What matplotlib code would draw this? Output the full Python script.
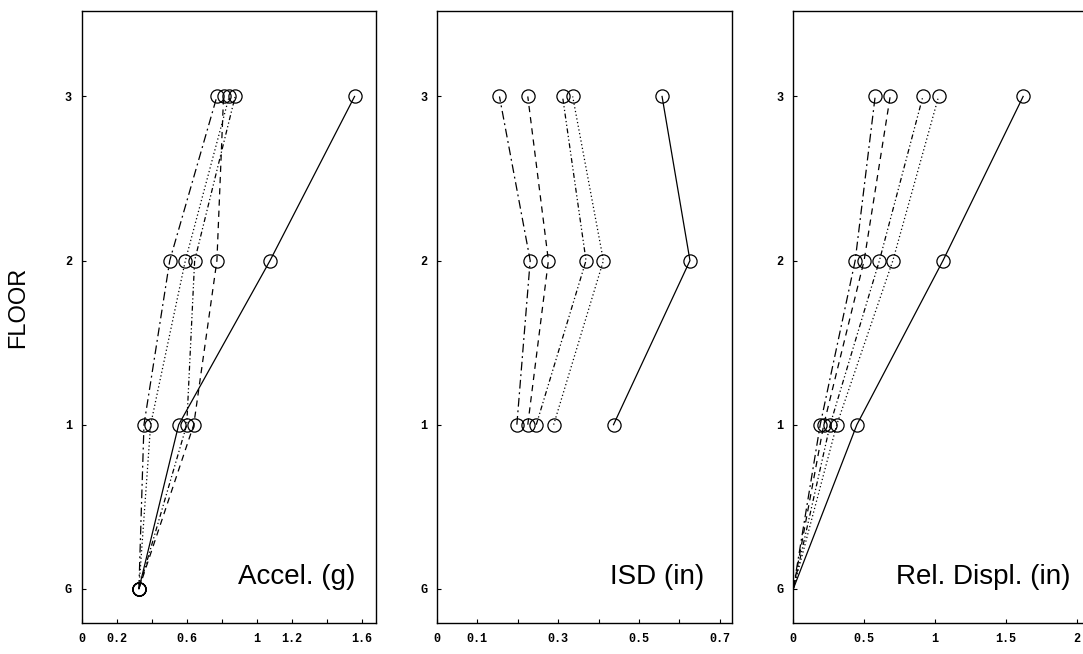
import matplotlib
matplotlib.use("Agg")
import matplotlib.pyplot as plt

# floor positions (G, 1, 2, 3)
floors = [0, 1, 2, 3]
floor_labels = ["G", "1", "2", "3"]

# peak acceleration (g), one list per run
accel_a = [0.327, 0.356, 0.503, 0.772]
accel_b = [0.327, 0.640, 0.772, 0.810]
accel_c = [0.327, 0.600, 0.645, 0.876]
accel_d = [0.327, 0.394, 0.592, 0.842]
accel_e = [0.327, 0.554, 1.075, 1.557]

# inter-story drift (in), floors 1-3 only
isd_floors = [1, 2, 3]
isd_a = [0.198, 0.231, 0.155]
isd_b = [0.225, 0.276, 0.225]
isd_c = [0.246, 0.369, 0.311]
isd_d = [0.289, 0.412, 0.336]
isd_e = [0.437, 0.626, 0.557]

# relative displacement (in)
disp_a = [0.0, 0.190, 0.437, 0.578]
disp_b = [0.0, 0.215, 0.500, 0.684]
disp_c = [0.0, 0.260, 0.608, 0.915]
disp_d = [0.0, 0.307, 0.703, 1.026]
disp_e = [0.0, 0.449, 1.057, 1.623]

accel_ticks = [0, 0.2, 0.4, 0.6, 0.8, 1.0, 1.2, 1.4, 1.6]
accel_ticklabels = ["0", "0.2", "", "0.6", "", "1", "1.2", "", "1.6"]
isd_ticks = [0, 0.1, 0.2, 0.3, 0.4, 0.5, 0.6, 0.7]
isd_ticklabels = ["0", "0.1", "", "0.3", "", "0.5", "", "0.7"]
disp_ticks = [0, 0.5, 1.0, 1.5, 2.0]
disp_ticklabels = ["0", "0.5", "1", "1.5", "2"]

styles = [
    (0, (7, 3, 1.5, 3)),          # dash-dot
    (0, (5, 4)),                  # dashed
    (0, (4, 2, 1, 2, 1, 2)),      # dash-dot-dot
    (0, (1, 2)),                  # dotted
    "-",                          # solid
]

fig = plt.figure(figsize=(10.83, 6.54), dpi=100)
ax1 = fig.add_axes([0.0753, 0.047, 0.272, 0.936])
ax2 = fig.add_axes([0.4033, 0.047, 0.273, 0.936])
ax3 = fig.add_axes([0.7325, 0.047, 0.272, 0.936])

tick_font = {"family": "Liberation Mono", "weight": "bold", "size": 8.5}


def draw_panel(ax, xs, ys, title, xlim, ticks, ticklabels, title_x, mark_ground=True):
    every = None if mark_ground else [1, 2, 3]
    for x, ls in zip(xs, styles):
        ax.plot(x, ys, linestyle=ls, color="black", linewidth=0.9,
                marker="o", markersize=9.5, markerfacecolor="none",
                markeredgewidth=0.9, markevery=every)
    ax.set_xlim(*xlim)
    ax.set_ylim(-0.21, 3.52)
    ax.set_xticks(ticks)
    ax.set_xticklabels(ticklabels, fontdict=tick_font)
    ax.set_yticks(floors)
    ax.set_yticklabels(floor_labels, fontdict=tick_font)
    ax.tick_params(direction="in", length=3, width=0.8, pad=7)
    for s in ax.spines.values():
        s.set_linewidth(1.0)
    ax.text(title_x, 0.075, title, transform=ax.transAxes, ha="right",
            va="center", fontsize=20, family="Liberation Sans")


draw_panel(ax1, [accel_a, accel_b, accel_c, accel_d, accel_e], floors,
           "Accel. (g)", (0, 1.68), accel_ticks, accel_ticklabels, 0.93)
draw_panel(ax2, [isd_a, isd_b, isd_c, isd_d, isd_e], isd_floors,
           "ISD (in)", (0, 0.731), isd_ticks, isd_ticklabels, 0.905)
draw_panel(ax3, [disp_a, disp_b, disp_c, disp_d, disp_e], floors,
           "Rel. Displ. (in)", (0, 2.08), disp_ticks, disp_ticklabels, 0.94,
           mark_ground=False)

fig.text(0.017, 0.53, "FLOOR", rotation=90, ha="center", va="center",
         fontsize=17, family="Liberation Sans")

fig.savefig("out.png", dpi=100)
